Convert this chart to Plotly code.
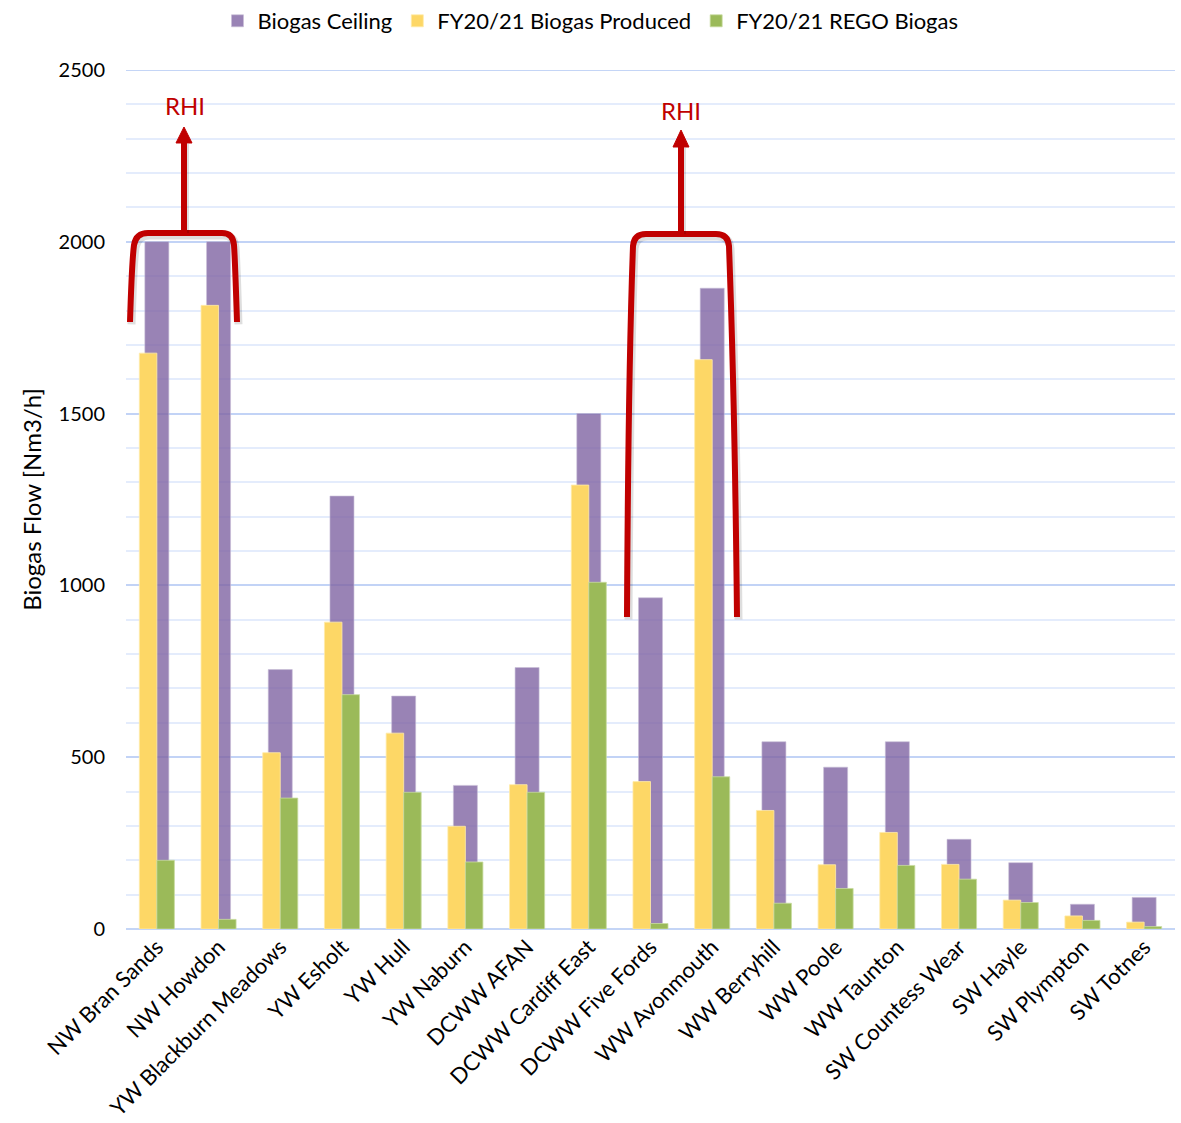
import plotly.graph_objects as go

sites = ["NW Bran Sands", "NW Howdon", "YW Blackburn Meadows", "YW Esholt", "YW Hull",
         "YW Naburn", "DCWW AFAN", "DCWW Cardiff East", "DCWW Five Fords", "WW Avonmouth",
         "WW Berryhill", "WW Poole", "WW Taunton", "SW Countess Wear", "SW Hayle",
         "SW Plympton", "SW Totnes"]
biogas_ceiling = [2000, 2000, 755, 1260, 678, 418, 761, 1500, 964, 1865, 545, 471, 545, 261, 193, 72, 92]
biogas_produced = [1676, 1815, 513, 893, 570, 299, 420, 1292, 429, 1657, 345, 187, 281, 188, 84, 38, 20]
rego_biogas = [200, 28, 381, 682, 398, 195, 398, 1009, 16, 443, 75, 118, 185, 145, 77, 25, 7]
y_ticks = [0, 500, 1000, 1500, 2000, 2500]

FONT = "Lato"
W, H = 1181, 1123
L, R, T, B = 126, 6, 70, 194
PW, PH = W - L - R, H - T - B

def px(x, y):
    return (x - L) / PW, (H - B - y) / PH

def path(points, close=False):
    s = ""
    for cmd, pts in points:
        s += cmd + " " + " ".join(f"{px(x, y)[0]:.5f},{px(x, y)[1]:.5f}" for x, y in pts) + " "
    if close:
        s += "Z"
    return s.strip()

fig = go.Figure()
fig.add_trace(go.Bar(x=sites, y=biogas_ceiling, name="Biogas Ceiling",
                     marker=dict(color="rgba(128,100,162,0.8)", line=dict(width=1, color="rgba(200,190,215,0.6)")),
                     width=0.389, offset=-0.1945))
fig.add_trace(go.Bar(x=sites, y=biogas_produced, name="FY20/21 Biogas Produced",
                     marker=dict(color="#FDD766", line=dict(width=1, color="rgba(255,235,170,0.8)")),
                     width=0.284, offset=-0.284))
fig.add_trace(go.Bar(x=sites, y=rego_biogas, name="FY20/21 REGO Biogas",
                     marker=dict(color="#9BBA59", line=dict(width=1, color="rgba(200,220,160,0.8)")),
                     width=0.284, offset=0.0))

RED = "#C00000"
SHADOW = "rgba(0,0,0,0.13)"
GRID_MAJOR = "rgba(190,208,245,0.9)"
shapes = []

# top gridline at 2500
shapes.append(dict(type="line", xref="paper", yref="y", x0=0, x1=1, y0=2500, y1=2500,
                   line=dict(color=GRID_MAJOR, width=2), layer="below"))

left_br = [("M", [(130, 322)]), ("C", [(131, 290), (132, 260), (134, 245)]),
           ("Q", [(136, 233), (148, 233)]), ("L", [(222, 233)]),
           ("Q", [(233, 233), (234, 245)]), ("C", [(235, 260), (236, 290), (237, 322)])]
right_br = [("M", [(627, 617)]), ("C", [(628, 420), (631, 300), (633, 246)]),
            ("Q", [(634, 234), (646, 234)]), ("L", [(716, 234)]),
            ("Q", [(728, 234), (729, 246)]), ("C", [(731, 300), (735, 420), (737, 617)])]

def shifted(p, dx, dy):
    return [(c, [(x + dx, y + dy) for x, y in pts]) for c, pts in p]

for br in (left_br, right_br):
    shapes.append(dict(type="path", xref="paper", yref="paper", path=path(shifted(br, 1.5, 2.5)),
                       line=dict(color=SHADOW, width=8)))
    shapes.append(dict(type="path", xref="paper", yref="paper", path=path(br),
                       line=dict(color=RED, width=6)))

for ax_, base, head_base, tip in ((184, 233, 142, 127), (681, 234, 146, 130)):
    shapes.append(dict(type="path", xref="paper", yref="paper",
                       path=path([("M", [(ax_ + 1.5, base)]), ("L", [(ax_ + 1.5, head_base + 2)])]),
                       line=dict(color=SHADOW, width=7)))
    shapes.append(dict(type="path", xref="paper", yref="paper",
                       path=path([("M", [(ax_, base)]), ("L", [(ax_, head_base)])]),
                       line=dict(color=RED, width=6)))
    shapes.append(dict(type="path", xref="paper", yref="paper",
                       path=path([("M", [(ax_ - 8, head_base + 1)]), ("L", [(ax_, tip)]),
                                  ("L", [(ax_ + 8, head_base + 1)])], close=True),
                       fillcolor=RED, line=dict(color=RED, width=1)))

annotations = []
for x, y in ((185, 105), (681, 110)):
    xp, yp = px(x, y)
    annotations.append(dict(text="RHI", x=xp, y=yp, xref="paper", yref="paper", showarrow=False,
                            font=dict(family=FONT, size=24, color=RED), xanchor="center", yanchor="middle"))

fig.update_layout(
    width=W, height=H, autosize=False,
    margin=dict(l=L, r=R, t=T, b=B, autoexpand=False),
    barmode="overlay",
    plot_bgcolor="white", paper_bgcolor="white",
    font=dict(family=FONT, size=20, color="#000000"),
    shapes=shapes, annotations=annotations,
    legend=dict(orientation="h", x=0.5, xanchor="center", xref="container",
                y=1.0, yanchor="top", yref="container",
                font=dict(family=FONT, size=22, color="#000000"),
                itemwidth=30, traceorder="normal"),
    showlegend=True,
)
fig.update_xaxes(range=[-0.5, 16.5], tickangle=-45, showgrid=False, showline=False, automargin=False,
                 ticks="", tickfont=dict(family=FONT, size=22, color="#000000"))
fig.update_yaxes(range=[0, 2500], tickvals=y_ticks, showgrid=True, automargin=False,
                 gridcolor=GRID_MAJOR, gridwidth=2,
                 minor=dict(dtick=100, showgrid=True, gridcolor="rgba(228,236,252,1)", gridwidth=2),
                 zeroline=True, zerolinecolor=GRID_MAJOR, zerolinewidth=2,
                 ticks="", ticklabelstandoff=20,
                 tickfont=dict(family=FONT, size=20, color="#000000"),
                 title=dict(text="Biogas Flow [Nm3/h]", font=dict(family=FONT, size=24, color="#000000"), standoff=10))

fig.write_html("out.html")
